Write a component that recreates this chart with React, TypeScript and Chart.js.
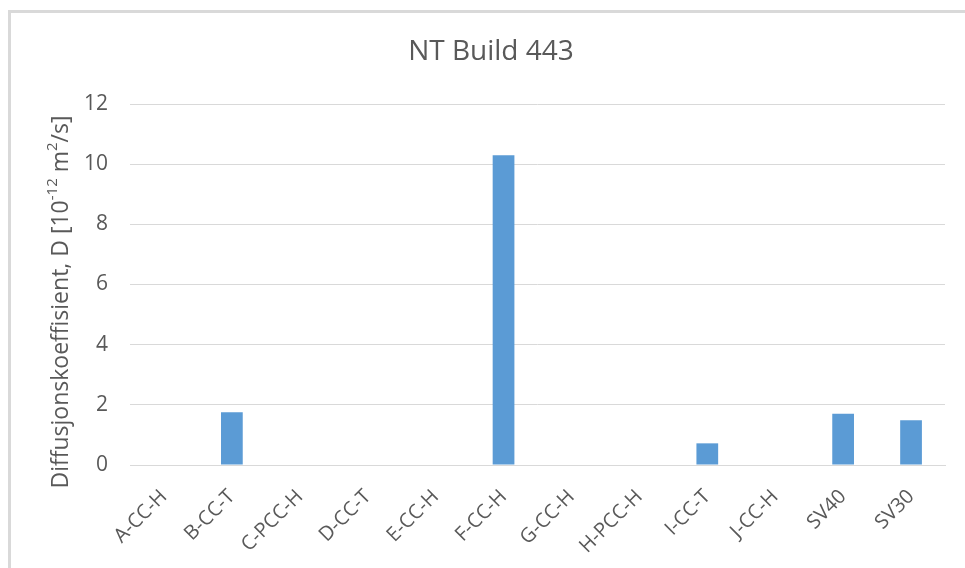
import React, { useEffect, useRef } from "react";
import { Chart, registerables } from "chart.js";

Chart.register(...registerables);

const categories = ["A-CC-H", "B-CC-T", "C-PCC-H", "D-CC-T", "E-CC-H", "F-CC-H", "G-CC-H", "H-PCC-H", "I-CC-T", "J-CC-H", "SV40", "SV30"];
const values = [null, 1.75, null, null, null, 10.3, null, null, 0.72, null, 1.7, 1.49];
const chartTitle = "NT Build 443";
const yTitleParts = [
  { t: "Diffusjonskoeffisient, D [10", sup: false },
  { t: "-12", sup: true },
  { t: " m", sup: false },
  { t: "2", sup: true },
  { t: "/s]", sup: false },
];

const FONT = "'Open Sans', sans-serif";
const TEXT = "#595959";

export default function App() {
  const ref = useRef<HTMLCanvasElement>(null);
  useEffect(() => {
    const textPlugin = {
      id: "texts",
      afterDraw(chart: any) {
        const ctx = chart.ctx;
        ctx.save();
        ctx.fillStyle = TEXT;
        ctx.font = `28px ${FONT}`;
        ctx.textAlign = "center";
        ctx.textBaseline = "middle";
        ctx.fillText(chartTitle, 491, 52);
        // y title
        const base = `23px ${FONT}`;
        const small = `15px ${FONT}`;
        let total = 0;
        for (const p of yTitleParts) {
          ctx.font = p.sup ? small : base;
          total += ctx.measureText(p.t).width;
        }
        ctx.translate(61, 302);
        ctx.rotate(-Math.PI / 2);
        ctx.textAlign = "left";
        ctx.textBaseline = "middle";
        let x = -total / 2;
        for (const p of yTitleParts) {
          ctx.font = p.sup ? small : base;
          ctx.fillText(p.t, x, p.sup ? -8 : 0);
          x += ctx.measureText(p.t).width;
        }
        ctx.restore();
      },
    };
    const chart = new Chart(ref.current!, {
      type: "bar",
      data: {
        labels: categories,
        datasets: [
          {
            data: values as any,
            backgroundColor: "#5b9bd5",
            borderWidth: 0,
            categoryPercentage: 1,
            barPercentage: 0.32,
          },
        ],
      },
      options: {
        animation: false,
        responsive: false,
        layout: { padding: { top: 104, right: 20, left: 0, bottom: 0 } },
        plugins: { legend: { display: false }, title: { display: false }, tooltip: { enabled: false } },
        scales: {
          x: {
            grid: { display: false, drawTicks: false },
            border: { display: true, color: "#d9d9d9", width: 1 },
            ticks: { color: TEXT, font: { family: FONT, size: 20 }, minRotation: 45, maxRotation: 45, padding: 20, autoSkip: false },
            afterFit(scale: any) { scale.height = 103; },
          },
          y: {
            min: 0,
            max: 12,
            ticks: { stepSize: 2, color: TEXT, font: { family: FONT, size: 21 }, padding: 22 },
            grid: { color: "#d9d9d9", drawTicks: false },
            border: { display: false },
            afterFit(scale: any) { scale.width = 130; },
          },
        },
      },
      plugins: [textPlugin],
    });
    return () => chart.destroy();
  }, []);
  return (
    <div style={{ position: "absolute", left: 0, top: 0, width: 965, height: 568, overflow: "hidden", background: "#fff" }}>
      <div style={{ position: "absolute", left: 8, top: 10, width: 1000, height: 600, borderLeft: "3px solid #d9d9d9", borderTop: "3px solid #d9d9d9", boxSizing: "border-box" }} />
      <canvas ref={ref} width={965} height={568} style={{ position: "absolute", left: 0, top: 0 }} />
    </div>
  );
}
